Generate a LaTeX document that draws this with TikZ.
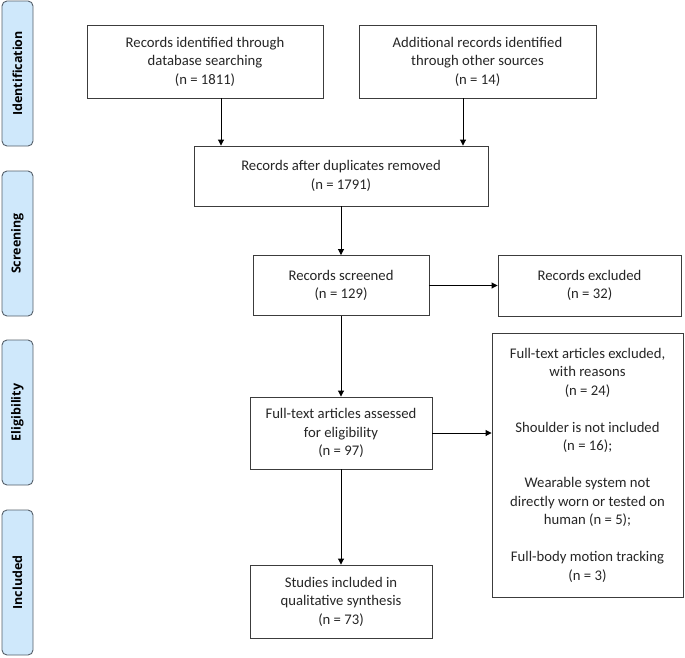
\documentclass[tikz,border=0pt]{standalone}
\usepackage{fontspec}
\setmainfont{Carlito}
\newfontfamily\labelfont{Open Sans}
\usetikzlibrary{arrows.meta}
\definecolor{boxline}{RGB}{60,60,60}
\definecolor{sidefill}{RGB}{207,232,251}
\definecolor{sideline}{RGB}{85,95,105}
\tikzset{
  box/.style={draw=boxline, line width=0.9pt, fill=white, align=center, inner sep=0pt,
    font=\fontsize{14.7}{18.5}\selectfont, text=black!85},
  side/.style={draw=sideline, line width=0.9pt, fill=sidefill, rounded corners=5pt,
    rotate=90, inner sep=0pt, minimum width=145pt, minimum height=31pt,
    font=\labelfont\bfseries\fontsize{12.5}{14}\selectfont},
  arr/.style={draw=black, line width=0.9pt, -{Triangle[length=6pt,width=6pt]}}
}
\begin{document}
\begin{tikzpicture}[x=1pt,y=-1pt]
\useasboundingbox (0,0) rectangle (685,657);
% side labels
\node[side] (sid) at (17.5,73.5) {Identification};
\node[side] (ssc) at (17.5,243.5) {Screening};
\node[side] (sel) at (17.5,412.5) {Eligibility};
\node[side] (sin) at (17.5,582.5) {Included};
% boxes
\node[box, minimum width=236pt, minimum height=73pt] (b1) at (205,61.5)
  {Records identified through\\database searching\\(n = 1811)};
\node[box, minimum width=237pt, minimum height=73pt] (b2) at (477.5,61.5)
  {Additional records identified\\through other sources\\(n = 14)};
\node[box, minimum width=294pt, minimum height=60pt] (b3) at (341,176)
  {Records after duplicates removed\\(n = 1791)};
\node[box, minimum width=176pt, minimum height=60pt] (scr) at (341,285.5)
  {Records screened\\(n = 129)};
\node[box, minimum width=183pt, minimum height=61pt] (exc) at (589.5,285.5)
  {Records excluded\\(n = 32)};
\node[box, minimum width=182pt, minimum height=72pt] (ass) at (341,433)
  {Full-text articles assessed\\for eligibility\\(n = 97)};
\node[box, minimum width=191pt, minimum height=264pt] (ftx) at (587.5,465)
  {Full-text articles excluded,\\with reasons\\(n = 24)\\[18.5pt]Shoulder is not included\\(n = 16);\\[18.5pt]Wearable system not\\directly worn or tested on\\human (n = 5);\\[18.5pt]Full-body motion tracking\\(n = 3)};
\node[box, minimum width=182pt, minimum height=73pt] (inc) at (341,601.5)
  {Studies included in\\qualitative synthesis\\(n = 73)};
% connectors
\draw[arr] ([xshift=16pt]b1.south) -- ([xshift=16pt]b1.south |- b3.north);
\draw[arr] ([xshift=-14.5pt]b2.south) -- ([xshift=-14.5pt]b2.south |- b3.north);
\draw[arr] (b3) -- (scr);
\draw[arr] (scr.east) -- (scr.east -| exc.west);
\draw[arr] (scr) -- (ass);
\draw[arr] (ass.east) -- (ass.east -| ftx.west);
\draw[arr] (ass) -- (inc);
\end{tikzpicture}
\end{document}
